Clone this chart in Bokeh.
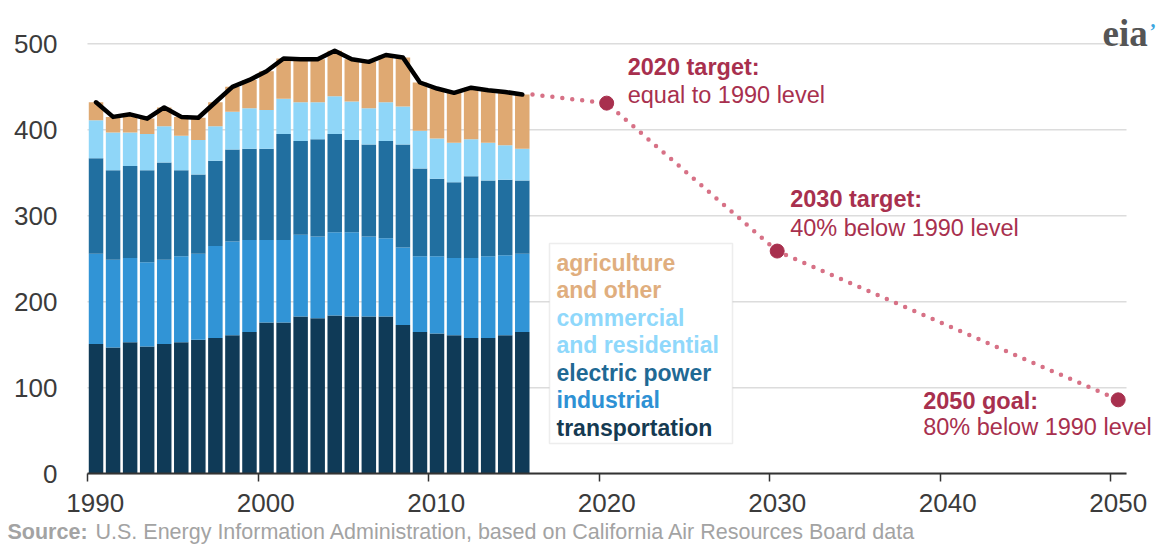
from bokeh.plotting import figure
from bokeh.models import (ColumnDataSource, Label, BoxAnnotation, FixedTicker, Range1d,
                          LinearAxis, CustomJSTickFormatter)
from bokeh.embed import file_html
from bokeh.resources import INLINE

# ---------------- data ----------------
years = list(range(1990, 2016))
transportation = [151, 147, 153, 148, 151, 153, 156, 158, 161, 165, 176, 176, 183,
                  181, 184, 183, 183, 183, 173, 165, 163, 161, 158, 158, 161, 165]
industrial = [105, 102, 98, 98, 98, 100, 100, 107, 109, 107, 96, 96, 95,
              95, 97, 98, 93, 91, 90, 88, 90, 90, 93, 95, 93, 91]
electric_power = [111, 104, 107, 107, 113, 100, 92, 99, 107, 106, 106, 123, 109,
                  113, 114, 107, 107, 113, 120, 102, 90, 88, 95, 88, 88, 85]
commercial_residential = [44, 44, 39, 42, 42, 40, 40, 40, 44, 47, 45, 41, 45,
                          43, 44, 45, 42, 45, 44, 44, 47, 46, 43, 44, 40, 37]
agriculture_other = [21, 18, 21, 18, 22, 22, 26, 28, 29, 33, 45, 47, 50,
                     50, 53, 49, 54, 55, 57, 56, 58, 58, 60, 61, 62, 63]

target_years = [2020, 2030, 2050]
target_values = [431, 259, 86]
target_titles = ["2020 target:", "2030 target:", "2050 goal:"]
target_texts = ["equal to 1990 level", "40% below 1990 level", "80% below 1990 level"]

x_ticks = [1990, 2000, 2010, 2020, 2030, 2040, 2050]
y_ticks = [0, 100, 200, 300, 400, 500]

sector_keys = ["transportation", "industrial", "electric", "commercial", "agriculture"]
sector_colors = ["#0f3a57", "#3194d6", "#216fa0", "#8fd6f8", "#dfa972"]

legend_lines = ["agriculture", "and other", "commercial", "and residential",
                "electric power", "industrial", "transportation"]
legend_colors = ["#e0ae7e", "#e0ae7e", "#8fd8fb", "#8fd8fb", "#1f6994", "#2e91d4", "#153a52"]

# ---------------- layout helpers (page pixel <-> data) ----------------
W, H = 1160, 546
X0, PXY = 87.0, 17.05      # pixel of 1990, pixels per year
Y0, PXV = 473.3, 0.86      # pixel of 0, pixels per unit

def xd(px):
    return 1990 + (px - X0) / PXY

def yd(py):
    return (Y0 - py) / PXV

def xp(x):
    return X0 + (x - 1990) * PXY

def yp(y):
    return Y0 - y * PXV

FONT = "Liberation Sans"
RED = "#a8304e"
AX_END = xd(1126)

bar_x = [y + 0.5 for y in years]
totals = [sum(v) for v in zip(transportation, industrial, electric_power,
                              commercial_residential, agriculture_other)]

source = ColumnDataSource(dict(
    x=bar_x,
    transportation=transportation,
    industrial=industrial,
    electric=electric_power,
    commercial=commercial_residential,
    agriculture=agriculture_other,
))

p = figure(width=W, height=H, output_backend="svg", toolbar_location=None,
           x_range=Range1d(xd(0), xd(W)), y_range=Range1d(yd(H), yd(0)),
           x_axis_location=None, y_axis_location=None,
           min_border=0, min_border_left=0, min_border_right=0,
           min_border_top=0, min_border_bottom=0)
p.outline_line_color = None
p.background_fill_color = "white"
p.border_fill_color = "white"
p.xgrid.visible = False
p.ygrid.visible = False

# horizontal grid lines
p.segment(x0=[x_ticks[0]] * len(y_ticks), x1=[AX_END] * len(y_ticks),
          y0=y_ticks, y1=y_ticks, line_color="#dcdcdc", line_width=1.5, level="underlay")

# y axis (labels only)
yaxis = LinearAxis(fixed_location=x_ticks[0], ticker=FixedTicker(ticks=y_ticks),
                   axis_line_color=None, major_tick_line_color=None,
                   minor_tick_line_color=None, major_label_standoff=24,
                   major_label_text_font=FONT, major_label_text_font_size="26px",
                   major_label_text_color="#3b3b3b")
p.add_layout(yaxis, "left")

# x axis: line + tick marks at the decades
xaxis = LinearAxis(fixed_location=0, ticker=FixedTicker(ticks=x_ticks),
                   bounds=(x_ticks[0], AX_END),
                   axis_line_color="#333333", axis_line_width=2,
                   major_tick_line_color="#333333", major_tick_line_width=1.5,
                   major_tick_out=8, major_tick_in=0, minor_tick_line_color=None,
                   major_label_text_color=None, major_label_text_font_size="1px")
p.add_layout(xaxis, "below")

# x axis labels, centred on the year slots
xlab = LinearAxis(fixed_location=0, ticker=FixedTicker(ticks=[t + 0.45 for t in x_ticks]),
                  axis_line_color=None, major_tick_line_color=None,
                  minor_tick_line_color=None, major_tick_out=8, major_tick_in=0,
                  major_label_standoff=12,
                  formatter=CustomJSTickFormatter(code="return Math.floor(tick).toString();"),
                  major_label_text_font=FONT, major_label_text_font_size="26px",
                  major_label_text_color="#3b3b3b")
p.add_layout(xlab, "below")

# stacked bars
p.vbar_stack(sector_keys, x="x", width=0.85, color=sector_colors, line_color=None,
             source=source)

# total line
p.line(bar_x, totals, line_color="black", line_width=4.5, line_join="round", line_cap="round")

# dotted path to targets
tx = [t + 0.45 for t in target_years]
path_x = [years[-1] + 1.1] + tx
path_y = [totals[-1]] + target_values
p.line(path_x, path_y, line_color="#d77186", line_width=4.5, line_dash="0 10", line_cap="round")
p.scatter(tx, target_values, size=14, color=RED)

# target annotations: (dx, line1 dy, line2 dy) in pixels from the point
offsets = [(21, -36.6, -8.6), (13, -51.6, -23), (-195, 0.7, 26.7)]
for x, v, t1, t2, (ox, o1, o2) in zip(tx, target_values, target_titles,
                                      target_texts, offsets):
    px, py = xp(x), yp(v)
    p.add_layout(Label(x=xd(px + ox), y=yd(py + o1), text=t1, text_font=FONT,
                       text_font_size="23.5px", text_font_style="bold", text_color=RED,
                       text_align="left", text_baseline="middle"))
    p.add_layout(Label(x=xd(px + ox), y=yd(py + o2), text=t2, text_font=FONT,
                       text_font_size="23.5px", text_color=RED,
                       text_align="left", text_baseline="middle"))

# legend box with coloured text
p.add_layout(BoxAnnotation(left=xd(549), right=xd(732), top=yd(243), bottom=yd(443),
                           fill_color="white", fill_alpha=1, line_color="#c4c4c4",
                           line_width=1.5))
for i, (txt, col) in enumerate(zip(legend_lines, legend_colors)):
    p.add_layout(Label(x=xd(556), y=yd(262 + i * 27.5), text=txt, text_font=FONT,
                       text_font_size="23px", text_font_style="bold", text_color=col,
                       text_align="left", text_baseline="middle"))

# eia logo
p.add_layout(Label(x=xd(1102), y=yd(33), text="eia", text_font="Liberation Serif",
                   text_font_size="37px", text_font_style="bold", text_color="#555555",
                   text_align="left", text_baseline="alphabetic"))
p.add_layout(Label(x=xd(1149), y=yd(30), text="\u2019", text_font="Liberation Serif",
                   text_font_size="20px", text_font_style="bold", text_color="#3aa6e0",
                   text_align="left", text_baseline="alphabetic"))

# source line
p.add_layout(Label(x=xd(7), y=yd(531), text="Source:", text_font=FONT,
                   text_font_size="21.5px", text_font_style="bold", text_color="#a3a3a3",
                   text_align="left", text_baseline="middle"))
p.add_layout(Label(x=xd(95), y=yd(531),
                   text="U.S. Energy Information Administration, based on California Air Resources Board data",
                   text_font=FONT, text_font_size="21.5px", text_color="#a3a3a3",
                   text_align="left", text_baseline="middle"))

open("out.html", "w").write(file_html(p, INLINE))
